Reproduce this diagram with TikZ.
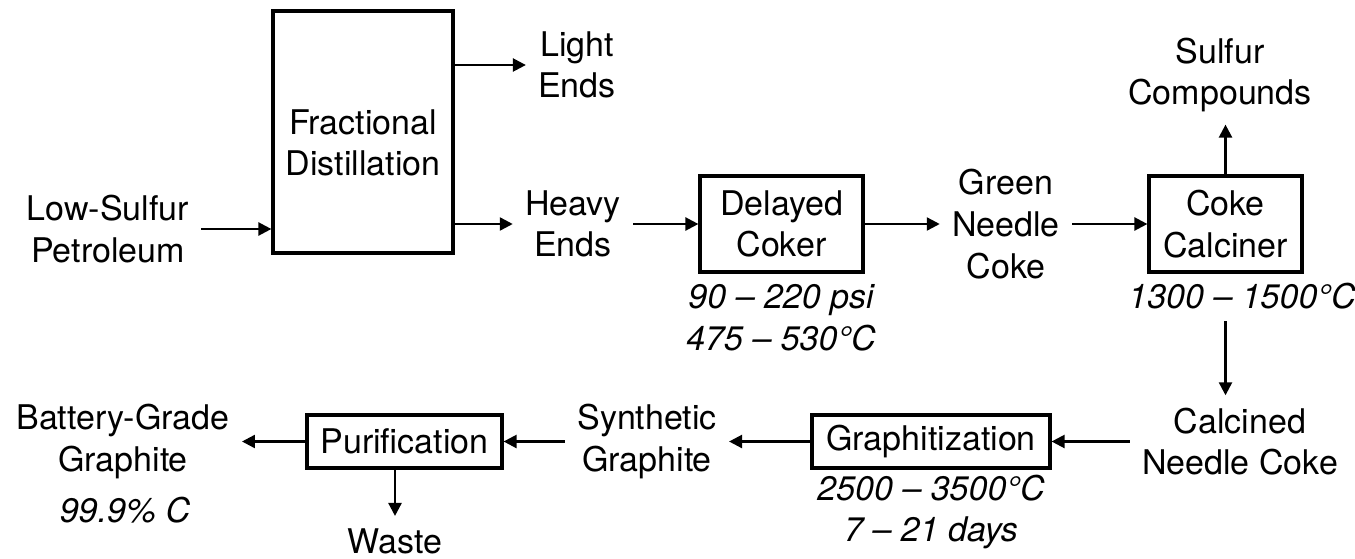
\documentclass[tikz,border=0pt]{standalone}
\usepackage{fontspec}
\setmainfont{TeX Gyre Heros}
\usetikzlibrary{arrows.meta}

\begin{document}
\begin{tikzpicture}[x=0.5pt,y=-0.5pt,
    font=\fontsize{17}{20.8}\selectfont,
    box/.style={draw,line width=1.6pt,inner sep=0pt,align=center},
    lbl/.style={align=center,inner sep=6pt},
    note/.style={align=center,inner sep=6pt,font=\fontsize{17}{20.8}\selectfont\itshape},
    flow/.style={line width=1.2pt,-{Triangle[length=6.5pt,width=6.5pt]}}]
\useasboundingbox (0,0) rectangle (1355,558);

\node[lbl] (petro) at (108,229) {Low-Sulfur\\Petroleum};
\node[box,minimum width=90pt,minimum height=121pt,
      label={[align=center,yshift=-5.5pt]center:Fractional\\Distillation}] (frac) at (363,132) {};
\node[lbl] (light) at (577,65) {Light\\Ends};
\node[lbl] (heavy) at (573,224) {Heavy\\Ends};
\node[box,minimum width=81.5pt,minimum height=48pt] (coker) at (781.5,224) {Delayed\\Coker};
\node[note] (cokerT) at (781,318) {90 – 220 psi\\475 – 530°C};
\node[lbl] (green) at (1006,224) {Green\\Needle\\Coke};
\node[box,minimum width=76.5pt,minimum height=48pt] (calciner) at (1225.5,224) {Coke\\Calciner};
\node[lbl] (sulfur) at (1220,75) {Sulfur\\Compounds};
\node[note] (calcT) at (1242,296) {1300 – 1500°C};
\node[lbl] (calcined) at (1240,441.5) {Calcined\\Needle Coke};
\node[box,minimum width=119pt,minimum height=26.5pt] (graph) at (931,441.5) {Graphitization};
\node[note] (graphT) at (931,512) {2500 – 3500°C\\7 – 21 days};
\node[lbl] (synth) at (647,441.5) {Synthetic\\Graphite};
\node[box,minimum width=97.5pt,minimum height=26.5pt] (purif) at (404.5,441.5) {Purification};
\node[lbl] (waste) at (395,541) {Waste};
\node[lbl] (battery) at (123,441.5) {Battery-Grade\\Graphite};
\node[note] (purity) at (125,510) {99.9\% C};

\draw[flow] (petro) -- (petro -| frac.west);
\draw[flow] (frac.east |- light) -- (light);
\draw[flow] (frac.east |- heavy) -- (heavy);
\draw[flow] (heavy) -- (coker);
\draw[flow] (coker) -- (green);
\draw[flow] (green) -- (calciner);
\draw[flow] (calciner) -- (calciner |- sulfur.south);
\draw[flow] (calcT.south -| calciner) -- (calcined.north -| calciner);
\draw[flow] (calcined) -- (graph);
\draw[flow] (graph) -- (synth);
\draw[flow] (synth) -- (purif);
\draw[flow] (purif) -- (battery);
\draw[flow] (purif.south -| waste) -- (waste);
\end{tikzpicture}
\end{document}
